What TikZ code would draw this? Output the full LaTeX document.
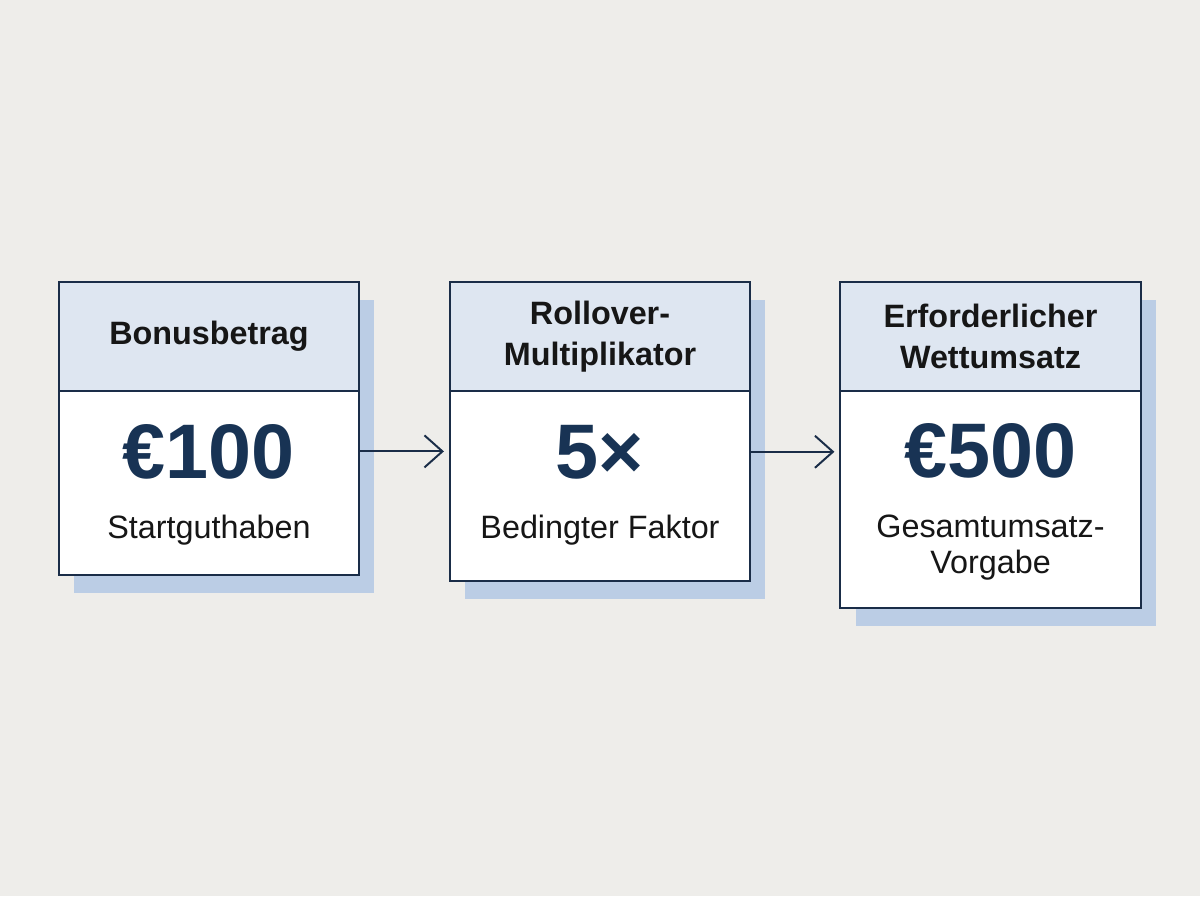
\documentclass[tikz,border=0pt]{standalone}
\usepackage{fontspec}
\setmainfont{Liberation Sans}
\usetikzlibrary{arrows.meta,shadows}
\definecolor{paper}{HTML}{EEEDEA}
\definecolor{headfill}{HTML}{DEE6F1}
\definecolor{shade}{HTML}{BBCDE5}
\definecolor{navy}{HTML}{1A2D48}
\definecolor{valblue}{HTML}{183354}
\definecolor{ink}{HTML}{161616}

\begin{document}
\begin{tikzpicture}[x=0.025cm,y=-0.025cm,
    every node/.style={outer sep=0pt},
    card/.style={draw=navy,line width=1.4pt,minimum width=7.5cm,
        drop shadow={shadow xshift=10.7pt,shadow yshift=-12.8pt,opacity=1,fill=shade}},
    head/.style={card,fill=headfill,minimum height=2.725cm,text=ink,align=center,
        font=\bfseries\fontsize{23}{29}\selectfont},
    body/.style={card,fill=white},
    val/.style={anchor=base,text=valblue,font=\bfseries\fontsize{55}{60}\selectfont},
    note/.style={anchor=base,text=ink,align=center,font=\fontsize{23}{25}\selectfont},
    flow/.style={draw=navy,line width=1.4pt,shorten >=4.3pt,
        -{Straight Barb[length=12.8pt,width=22.8pt]}}]

    \fill[paper] (0,0) rectangle (1200,896);

    % Bonusbetrag
    \node[head] (head1) at (209,336.5) {Bonusbetrag};
    \node[body,minimum height=4.6cm] (body1) at (209,483) {};
    \node[val] (val1) at (209,478) {€100};
    \node[note] (note1) at (209,538) {Startguthaben};

    % Multiplikator
    \node[head] (head2) at (600,336.5) {Rollover-\\Multiplikator};
    \node[body,minimum height=4.75cm] (body2) at (600,486) {};
    \node[val] (val2) at (600,478) {5×};
    \node[note] (note2) at (600,538) {Bedingter Faktor};

    % Wettumsatz
    \node[head] (head3) at (990.5,336.5) {Erforderlicher\\Wettumsatz};
    \node[body,minimum height=5.425cm] (body3) at (990.5,499.5) {};
    \node[val] (val3) at (990.5,477) {€500};
    \node[note] (note3) at (990.5,573) {Gesamtumsatz-\\Vorgabe};

    \draw[flow] (body1.east |- val1.center) -- (body2.west |- val1.center);
    \draw[flow] (body2.east |- val2.center) -- (body3.west |- val2.center);
\end{tikzpicture}
\end{document}
